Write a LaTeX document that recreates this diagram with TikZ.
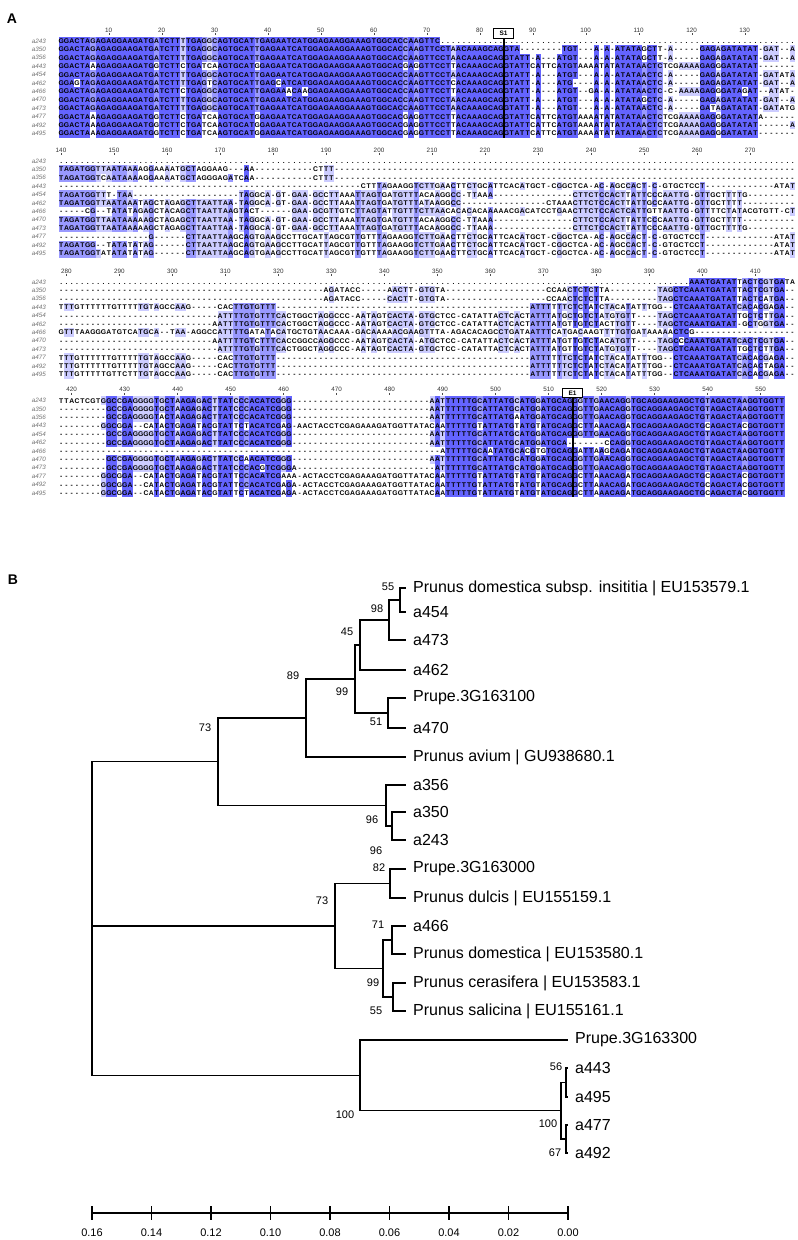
\documentclass[tikz,border=0pt]{standalone}
\usepackage{fontspec}
\setmainfont{Liberation Sans}
\usepackage{xcolor}
\usepackage{tikz}
\usetikzlibrary{positioning}

\definecolor{alnD}{HTML}{6464FF}
\definecolor{alnM}{HTML}{9999FF}
\definecolor{alnL}{HTML}{CCCCFF}
\newlength\alnw \setlength\alnw{5.3pt}
\newcommand\cellbg[1]{\rlap{\textcolor{#1}{\rule[-1.7pt]{\alnw}{8.4pt}}}}
\newcommand\alncell[2]{\ifcase#1\relax\or\cellbg{alnL}\or\cellbg{alnM}\or\cellbg{alnD}\fi\makebox[\alnw][c]{#2}}

\ExplSyntaxOn
\cs_new:Npn \gp #1 { \prg_replicate:nn {#1} { - } }
\cs_new:Npn \dt #1 { \prg_replicate:nn {#1} { . } }
\seq_new:N \g_aln_rows_seq
\tl_new:N \g_aln_cons_tl
\tl_new:N \g_aln_lvl_tl
\tl_new:N \g_aln_out_tl
\tl_new:N \l_aln_row_tl
\tl_new:N \l_aln_ch_tl
\tl_new:N \l_aln_cc_tl
\tl_new:N \l_aln_best_tl
\int_new:N \g_aln_len_int
\int_new:N \l_aln_n_int
\int_new:N \l_aln_max_int
\int_new:N \l_aln_a_int
\int_new:N \l_aln_c_int
\int_new:N \l_aln_g_int
\int_new:N \l_aln_t_int
\cs_new_protected:Npn \aln_try:Nn #1#2
  {
    \int_compare:nNnT {#1} > {\l_aln_max_int}
      { \int_set_eq:NN \l_aln_max_int #1 \tl_set:Nn \l_aln_best_tl {#2} }
  }
\cs_new:Npn \aln_level:
  {
    \int_compare:nNnTF { 100 * \l_aln_max_int } > { 80 * \l_aln_n_int } { 3 }
      {
        \int_compare:nNnTF { 100 * \l_aln_max_int } > { 60 * \l_aln_n_int } { 2 }
          { \int_compare:nNnTF { 100 * \l_aln_max_int } > { 40 * \l_aln_n_int } { 1 } { 0 } }
      }
  }
% consensus of one block of rows
\NewDocumentCommand \AlnBlock { m m }
  {
    \int_gset:Nn \g_aln_len_int {#1}
    \exp_args:NNx \seq_gset_from_clist:Nn \g_aln_rows_seq {#2}
    \int_set:Nn \l_aln_n_int { \seq_count:N \g_aln_rows_seq }
    \tl_gclear:N \g_aln_cons_tl
    \tl_gclear:N \g_aln_lvl_tl
    \int_step_inline:nn { \g_aln_len_int }
      {
        \int_zero:N \l_aln_a_int
        \int_zero:N \l_aln_c_int
        \int_zero:N \l_aln_g_int
        \int_zero:N \l_aln_t_int
        \seq_map_inline:Nn \g_aln_rows_seq
          {
            \tl_set:Nx \l_aln_ch_tl { \str_item:nn {####1} {##1} }
            \str_if_eq:VnT \l_aln_ch_tl {A} { \int_incr:N \l_aln_a_int }
            \str_if_eq:VnT \l_aln_ch_tl {C} { \int_incr:N \l_aln_c_int }
            \str_if_eq:VnT \l_aln_ch_tl {G} { \int_incr:N \l_aln_g_int }
            \str_if_eq:VnT \l_aln_ch_tl {T} { \int_incr:N \l_aln_t_int }
          }
        \int_zero:N \l_aln_max_int
        \tl_set:Nn \l_aln_best_tl {x}
        \aln_try:Nn \l_aln_a_int {A}
        \aln_try:Nn \l_aln_c_int {C}
        \aln_try:Nn \l_aln_g_int {G}
        \aln_try:Nn \l_aln_t_int {T}
        \tl_gput_right:Nx \g_aln_cons_tl { { \l_aln_best_tl } }
        \tl_gput_right:Nx \g_aln_lvl_tl { { \aln_level: } }
      }
  }
% one shaded row
\NewDocumentCommand \AlnRow { m }
  {
    \tl_set:Nx \l_aln_row_tl { \seq_item:Nn \g_aln_rows_seq {#1} }
    \tl_gclear:N \g_aln_out_tl
    \int_step_inline:nn { \str_count:N \l_aln_row_tl }
      {
        \tl_set:Nx \l_aln_ch_tl { \str_item:Nn \l_aln_row_tl {##1} }
        \tl_set:Nx \l_aln_cc_tl { \tl_item:Nn \g_aln_cons_tl {##1} }
        \str_if_eq:VVTF \l_aln_ch_tl \l_aln_cc_tl
          { \tl_gput_right:Nx \g_aln_out_tl { \exp_not:N \alncell { \tl_item:Nn \g_aln_lvl_tl {##1} } { \l_aln_ch_tl } } }
          { \tl_gput_right:Nx \g_aln_out_tl { \exp_not:N \alncell {0} { \l_aln_ch_tl } } }
      }
    \g_aln_out_tl
  }
\ExplSyntaxOff

% pieces shared by several rows
\def\PA{GGACTAGAGAGGAAGATGATCTTTTGAGGCAGTGCATTGA}
\def\PB{GGACTAAAGAGGAAGATGGTCTTCTGATCAAGTGCATGGA}
\def\MA{GAATCATGGAGAAGGAAAGTGGCACCAAGTTC}
\def\MB{GAATCATGGAGAAGGAAAGTGGCACGAGGTTCCTTACAAAGCAGGTATTCATTCATGTAAAATATATATAACTCTCGAAAAGAGGGATATAT}
\def\TB{CTTAATTAAGCAGTGAAGCCTTGCATTAGCGTTGTTTAGAAGGTCTTGAACTTCTGCATTCACATGCT-CGGCTCA-AC-AGCCACT-C-GTGCTCCT\gp{13}ATAT}
\def\LC{-----CACTTGTGTTT\gp{48}ATTTTTTCTCTATCTACATATTTGG--CTCAAATGATATCACAC}
\def\HD{GCCGAGGGGTGCTAAGAGACTTATCCCACATCGGG}
\def\TD{AATTTTTTGCATTATGCATGGATGCAGGGTTGAACAGGTGCAGGAAGAGCTGTAGACTAAGGTGGTT}
\def\LD{GTTATACAATTTTTGTATTATGTATGTATGCAGGCTTAAACAGATGCAGGAAGAGCTGCAGACTACGGTGGTT}

\def\blkI{
\PA\MA\dt{67},
\PA\MA CTAACAAAGCAGGTA\gp{8}TGT---A-A-ATATAGCTT-A-----GAGAGATATAT-GAT--A,
\PA\MA CTAACAAAGCAGGTATT-A---ATGT---A-A-ATATAGCTT-A-----GAGAGATATAT-GAT--A,
\PB\MB\gp{7},
\PA\MA CTAACAAAGCAGGTATT-A---ATGT---A-A-ATATAACTC-A-----GAGAGATATAT-GATATA,
GGAGTAGAGAGGAAGATGATCTTTTGAGTCAGTGCATTGAGCATCATGGAGAAGGAAAGTGGCACCAAGTTCCTCACAAAGCAGGTATT-A---ATG----A-A-ATATAACTC-A-----GAGAGATATAT-GAT--A,
GGACTAGAGAGGAAGATGATCTTCTGAGGCAGTGCATTGAGAAACAAGGAGAAGGAAAGTGGCACCAAGTTCCTTACAAAGCAGGTATT-A---ATGT--GA-A-ATATAACTC-C-AAAAGAGGGATAGAT--ATAT-,
\PA\MA CTAACAAAGCAGGTATT-A---ATGT---A-A-ATATAGCTC-A-----GAGAGATATAT-GAT--A,
\PA\MA CTAACAAAGCAGGTATT-A---ATGT---A-A-ATATAACTC-A-----GATAGATATAT-GATATG,
\PB\MB A\gp{6},
\PB\MB\gp{6}A,
\PB\MB\gp{7}}

\def\blkII{
\dt{139},
TAGATGGTTAATAAAAGGAAAATGCTAGGAAG---AA\gp{11}CTTT\gp{87},
TAGATGGTCAATAAAAGGAAAATGCTAGGGAGATCAA\gp{11}CTTT\gp{87},
\gp{57}CTTTAGAAGGTCTTGAACTTCTGCATTCACATGCT-CGGCTCA-AC-AGCCACT-C-GTGCTCCT\gp{13}ATAT,
TAGATGGTTT-TAA\gp{20}TAGGCA-GT-GAA-GCCTTAAATTAGTGATGTTTACAAGGCC-TTAAA\gp{15}CTTCTCCACTTATTCCCAATTG-GTTGCTTTTG\gp{9},
TAGATGGTTAATAAATAGCTAGAGCTTAATTAA-TAGGCA-GT-GAA-GCCTTAAATTAGTGATGTTTATAAGGCC\gp{16}CTAAACTTCTCCACTTATTGCCAATTG-GTTGCTTTT\gp{10},
-----CG--TATATAGAGCTACAGCTTAATTAAGTACT\gp{6}GAA-GCGTTGTCTTAGTATTGTTTCTTAACACACACAAAAACGACATCCTGAACTTCTCCACTCATTGTTAATTG-GTTTTCTATACGTGTT-CT,
TAGATGGTTAATAAAAAGCTAGAGCTTAATTAA-TAGGCA-GT-GAA-GCCTTAAATTAGTGATGTTTACAAGGCC-TTAAA\gp{15}CTTCTCCACTTATTCCCAATTG-GTTGCTTTT\gp{10},
TAGATGGTTAATAAAAAGCTAGAGCTTAATTAA-TAGGCA-GT-GAA-GCCTTAAATTAGTGATGTTTACAAGGCC-TTAAA\gp{15}CTTCTCCACTTATTCCCAATTG-GTTGCTTTTG\gp{9},
\gp{17}G\gp{6}\TB,
TAGATGG--TATATATAG\gp{6}\TB,
TAGATGGTATATATATAG\gp{6}\TB}

\def\blkIII{
\dt{119}AAATGATATTACTCGTGATA,
\gp{50}AGATACC-----AACTT-GTGTA\gp{19}CCAACTCTCTTA\gp{9}TAGCTCAAATGATATTACTCGTGA--,
\gp{50}AGATACC-----CACTT-GTGTA\gp{19}CCAACTCTCTTA\gp{9}TAGCTCAAATGATATTACTCATGA--,
TTTGTTTTTTGTTTTTGTAGCCAAG\LC GAGA--,
\gp{30}ATTTTGTGTTTCACTGGCTAGGCCC-AATAGTCACTA-GTGCTCC-CATATTACTCACTATTTATGCTGTCTATGTGTT----TAGCTCAAATGATATTGCTCTTGA--,
\gp{29}AATTTTGTGTTTCACTGGCTAGGCCC-AATAGTCACTA-GTGCTCC-CATATTACTCACTATTTATGTTGTCTACTTGTT----TAGCTCAAATGATAT-GCTGGTGA--,
GTTTAAGGGATGTCATGCA--TAA-AGGCCATTTTGATATACATGCTGTAACAAA-GACAAAAACGAAGTTTA-AGACACAGCCTGATAATTTCATGACAAGTTTTGTGATAAAAACTCG\gp{19},
\gp{29}AATTTTGTCTTTCACCGGCCAGGCCC-AATAGTCACTA-ATGCTCC-CATATTACTCACTATTTATGTTGTCTACATGTT----TAGCCCAAATGATATCACTCGTGA--,
\gp{30}ATTTTGTGTTTCACTGGCTAGGCCC-AATAGTCACTA-GTGCTCC-CATATTACTCACTATTTATGTTGTCTATGTGTT----TAGCTCAAATGATATTGCTCTTGA--,
TTTGTTTTTTGTTTTTGTAGCCAAG\LC GAGA--,
TTTGTTTTTTGTTTTTGTAGCCAAG\LC TAGA--,
TTTGTTTTTGTTCTTTGTAGCCAAG\LC GAGA--}

\def\blkIV{
TTACTCGTG\HD\gp{26}\TD,
\gp{9}\HD\gp{26}\TD,
\gp{9}GCCGAGGGGTACTAAGAGACTTATCCCACATCGGG\gp{26}AATTTTTTGCATTATGAATGGATGCAGGGTTGAACAGGTGCAGGAAGAGCTGTAGACTAAGGTGGTT,
\gp{8}GGCGGA--CATACTGAGATACGTATTCTACATCGAG-AACTACCTCGAGAAAGATG\LD,
\gp{9}\HD\gp{26}\TD,
\gp{9}\HD\gp{26}AATTTTTTGCATTATGCATGGATGCA-------CCAGGTGCAGGAAGAGCTGTAGACTAAGGTGGTT,
\gp{72}ATTTTTGCAATATGCACGTGTGCAGGATTAAGCAGATGCAGGAAGAGCTGTAGACTAAGGTGGTT,
\gp{9}GCCGAGGGGTGCTAAGAGACTTATCCAACATCGGG\gp{26}\TD,
\gp{9}GCCGAGGGGTGCTAAGAGACTTATCCCACGTCGGGA\gp{26}ATTTTTTGCATTATGCATGGATGCAGGGTTGAACAGGTGCAGGAAGAGCTGTAGACTAAGGTGGTT,
\gp{8}GGCGGA--CATACTGAGATACGTATTCCACATCGAAA-ACTACCTCGAGAAAGATG\LD,
\gp{8}GGCGGA--CATACTGAGATACGTATTCCACATCGAGA-ACTACCTCGAGAAAGATG\LD,
\gp{8}GGCGGA--CATACTGAGATACGTATTCTACATCGAGA-ACTACCTCGAGAAAGATG\LD}

\begin{document}
\begin{tikzpicture}[x=1pt,y=-1pt,
  seqname/.style={anchor=east,inner sep=0pt,text=black!55,font=\fontsize{6.3}{7}\selectfont\itshape},
  seqrow/.style={anchor=base west,inner sep=0pt,font=\fontsize{6.8}{8}\selectfont\bfseries},
  rulernum/.style={inner sep=0pt,text=black!80,font=\fontsize{6.3}{7}\selectfont},
  rulertick/.style={line width=0.4pt,black!70},
  sitebox/.style={draw,line width=1.1pt,fill=white,inner sep=0pt,minimum width=20pt,minimum height=9.5pt,font=\fontsize{6.5}{7}\selectfont\bfseries},
  siteline/.style={line width=2pt},
  panel/.style={inner sep=0pt,font=\fontsize{14}{16}\selectfont\bfseries},
  leaf/.style={anchor=west,inner sep=0pt,font=\fontsize{16}{18}\selectfont},
  boot/.style={inner sep=0pt,font=\fontsize{11}{13}\selectfont},
  branch/.style={line width=1.1pt,line cap=rect},
  axisnum/.style={inner sep=0pt,font=\fontsize{11}{13}\selectfont}]
\useasboundingbox[fill=white] (0,0) rectangle (798,1240);

% A: alignment
\node[panel] (pa) at (12,19) {A};
\foreach \blk/\ytop/\first/\len/\kfrom/\nk in {I/41/1/139/10/12,II/161/140/139/140/13,III/282/279/139/280/13,IV/400.5/418/137/420/13}{
  \AlnBlock{\len}{\csname blk\blk\endcsname}
  \foreach \k in {0,...,\nk}{
    \pgfmathtruncatemacro\num{\kfrom+10*\k}
    \node[rulernum] (r\num) at ({61+(\num-\first)*5.3},\ytop-11) {\num};
    \draw[rulertick] ({61+(\num-\first)*5.3},\ytop-7.6) -- ++(0,2);
  }
  \foreach \nm [count=\i] in {a243,a350,a356,a443,a454,a462,a466,a470,a473,a477,a492,a495}{
    \node[seqname] (\nm\blk) at (46,\ytop+8.4*\i-8.4) {\nm};
    \node[seqrow] (s\nm\blk) at (58.35,\ytop+8.4*\i-5.9) {\AlnRow{\i}};
  }
}
\node[sitebox] (s1) at (503.5,33.5) {S1};
\coordinate (s1end) at (503.5,137.5);
\draw[siteline] (s1.south) -- (s1end);
\node[sitebox] (e1) at (572.5,393) {E1};
\coordinate (e1end) at (572.5,497);
\draw[siteline] (e1.south) -- (e1end);

% B: tree
\node[panel] (pb) at (13,580) {B};
\foreach \lab/\x/\y [count=\j] in {
  Prunus domestica subsp. insititia | EU153579.1/405/588, a454/405/612, a473/405/640,
  a462/405/670, Prupe.3G163100/405/698, a470/405/728, Prunus avium | GU938680.1/405/757,
  a356/405/785, a350/405/812, a243/405/840, Prupe.3G163000/405/869,
  Prunus dulcis | EU155159.1/405/898, a466/405/926, Prunus domestica | EU153580.1/405/954,
  Prunus cerasifera | EU153583.1/405/983, Prunus salicina | EU155161.1/405/1011,
  Prupe.3G163300/567/1040, a443/567/1068, a495/567/1097, a477/567/1125, a492/567/1153}{
  \coordinate (t\j) at (\x,\y);
  \node[leaf,right=8pt of t\j] (l\j) {\lab};
}
\coordinate (n1) at (400,600);
\coordinate (n2) at (389,620);
\coordinate (n3) at (360,645);
\coordinate (n4) at (388,713);
\coordinate (n5) at (355,679);
\coordinate (n6) at (306,718);
\coordinate (n7) at (392,826);
\coordinate (n8) at (386,805.5);
\coordinate (n9) at (218,761.75);
\coordinate (n10) at (390,883.5);
\coordinate (n13) at (392,940);
\coordinate (n11) at (393,997);
\coordinate (n12) at (383,968.5);
\coordinate (n14) at (335,926);
\coordinate (np) at (566,1082.5);
\coordinate (nq) at (566,1139);
\coordinate (nr) at (561,1110.75);
\coordinate (ns) at (360,1075.4);
\coordinate (root) at (92,918.6);
\draw[branch] (n1) |- (t1) (n1) |- (t2) (n2) |- (n1) (n2) |- (t3)
  (n3) |- (n2) (n3) |- (t4) (n4) |- (t5) (n4) |- (t6)
  (n5) |- (n3) (n5) |- (n4) (n6) |- (n5) (n6) |- (t7)
  (n7) |- (t9) (n7) |- (t10) (n8) |- (t8) (n8) |- (n7)
  (n9) |- (n6) (n9) |- (n8)
  (n10) |- (t11) (n10) |- (t12) (n13) |- (t13) (n13) |- (t14)
  (n11) |- (t15) (n11) |- (t16) (n12) |- (n13) (n12) |- (n11)
  (n14) |- (n10) (n14) |- (n12)
  (np) |- (t18) (np) |- (t19) (nq) |- (t20) (nq) |- (t21)
  (nr) |- (np) (nr) |- (nq) (ns) |- (t17) (ns) |- (nr)
  (root) |- (n9) (root) |- (n14) (root) |- (ns);
\foreach \b/\x/\y [count=\j] in {55/388/587,98/377/609,45/347/632,99/342/692,51/376/722,
  89/293/676,73/205/728,96/372/820,96/376/851,82/379/868,73/322/901,71/378/925,
  99/373/983,55/376/1011,56/556/1067,100/548/1124,67/555/1153,100/345/1115}{
  \node[boot] (b\j) at (\x,\y) {\b};
}
% scale
\coordinate (ax0) at (92,1213);
\coordinate (ax1) at (568,1213);
\draw[branch] (ax0) -- (ax1);
\foreach \v [count=\j from 0] in {0.16,0.14,0.12,0.10,0.08,0.06,0.04,0.02,0.00}{
  \draw[branch] ({92+59.5*\j},1207) -- ({92+59.5*\j},1219);
  \node[axisnum] (v\j) at ({92+59.5*\j},1233) {\v};
}
\end{tikzpicture}
\end{document}
